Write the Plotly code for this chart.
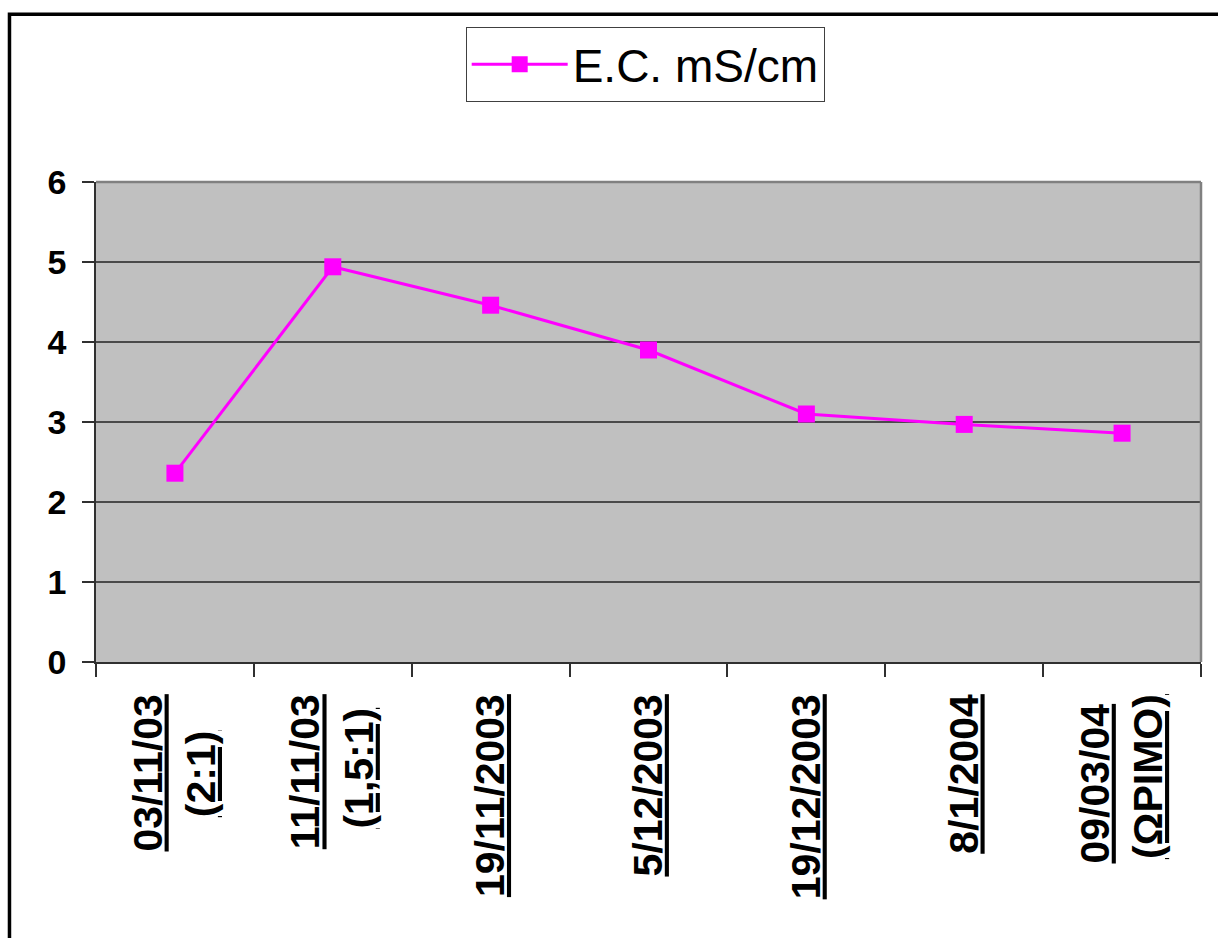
import plotly.graph_objects as go

# Sampling dates (with dilution ratio / stage notes) and electrical conductivity
categories = [
    "03/11/03 (2:1)",
    "11/11/03 (1,5:1)",
    "19/11/2003",
    "5/12/2003",
    "19/12/2003",
    "8/1/2004",
    "09/03/04 (ΩΡΙΜΟ)",
]
ec_values = [2.36, 4.94, 4.46, 3.90, 3.10, 2.97, 2.86]
series_name = "E.C. mS/cm"
y_ticks = [0, 1, 2, 3, 4, 5, 6]


def pad(width_chars):
    # invisible filler so the shorter line of a two-line label sits centred
    return f"<span style='color:rgba(0,0,0,0)'>{width_chars}</span>"


tick_labels = [
    "<u>03/11/03</u><br><u>(2:1)</u>" + pad("0:"),
    "<u>11/11/03</u><br><u>(1,5:1)</u>" + pad(":"),
    "<u>19/11/2003</u>",
    "<u>5/12/2003</u>",
    "<u>19/12/2003</u>",
    "<u>8/1/2004</u>",
    "<u>09/03/04</u>" + pad("'") + "<br><u>(ΩΡΙΜΟ)</u>",
]

FONT = "Liberation Sans, Arial, sans-serif"
MAGENTA = "#FF00FF"

fig = go.Figure()
fig.add_trace(
    go.Scatter(
        x=categories,
        y=ec_values,
        mode="lines+markers",
        name=series_name,
        line=dict(color=MAGENTA, width=3),
        marker=dict(symbol="square", size=17, color=MAGENTA),
    )
)

fig.update_layout(
    width=1218,
    height=938,
    margin=dict(l=96, r=17, t=182, b=276),
    paper_bgcolor="white",
    plot_bgcolor="#C0C0C0",
    showlegend=True,
    legend=dict(
        x=0.497,
        xanchor="center",
        y=1.245,
        yanchor="middle",
        bgcolor="white",
        bordercolor="#404040",
        borderwidth=1,
        font=dict(family=FONT, size=46, color="black"),
        itemwidth=96,
    ),
    xaxis=dict(
        type="category",
        range=[-0.5, 6.5],
        tickvals=categories,
        ticktext=tick_labels,
        tickangle=-90,
        tickson="boundaries",
        ticks="outside",
        ticklen=13,
        tickwidth=1.5,
        tickcolor="#303030",
        ticklabelstandoff=14,
        showline=True,
        linecolor="#303030",
        linewidth=1.5,
        showgrid=False,
        tickfont=dict(family=FONT, size=41, color="black", weight="bold"),
    ),
    yaxis=dict(
        range=[0, 6],
        tickvals=y_ticks,
        ticks="outside",
        ticklen=12,
        tickwidth=1.5,
        tickcolor="#303030",
        ticklabelstandoff=9,
        showline=True,
        linecolor="#303030",
        linewidth=1.5,
        showgrid=True,
        gridcolor="#4A4A4A",
        gridwidth=1.5,
        zeroline=False,
        tickfont=dict(family=FONT, size=34, color="black", weight="bold"),
    ),
)

# Gray frame on the top and right of the plotting area
fig.add_shape(type="line", xref="paper", yref="paper", x0=0, x1=1, y0=1, y1=1,
              line=dict(color="#808080", width=2.5))
fig.add_shape(type="line", xref="paper", yref="paper", x0=1, x1=1, y0=0, y1=1,
              line=dict(color="#808080", width=2.5))

# Black outer frame along the top and left edges of the chart
fig.add_shape(type="path", xref="paper", yref="paper",
              path="M -0.0783,-0.6 L -0.0783,1.3497 L 1.02,1.3497",
              line=dict(color="black", width=3.5))

fig.write_html("out.html")
